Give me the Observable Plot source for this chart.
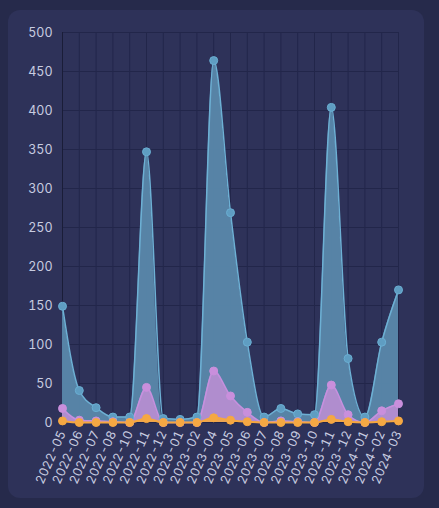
<!DOCTYPE html>
<html>
<head>
<meta charset="utf-8">
<script src="https://cdn.jsdelivr.net/npm/d3@7"></script>
<script src="https://cdn.jsdelivr.net/npm/@observablehq/plot@0.6"></script>
<style>
  html, body { margin: 0; padding: 0; background: #262a4b; width: 439px; height: 508px; overflow: hidden; }
  #card { position: absolute; left: 8px; top: 10px; width: 416px; height: 488px; background: #2e3259; border-radius: 12px; overflow: hidden; }
  #card svg { display: block; }
</style>
</head>
<body>
<div id="card"></div>
<script>
const months = ["2022-05","2022-06","2022-07","2022-08","2022-10","2022-11","2022-12","2023-01","2023-02","2023-04","2023-05","2023-06","2023-07","2023-08","2023-09","2023-10","2023-11","2023-12","2024-01","2024-02","2024-03"];
const blueValues   = [149, 41, 19, 7, 7, 347, 5, 4, 7, 464, 269, 103, 7, 18, 11, 10, 404, 82, 7, 103, 170];
const pinkValues   = [18, 3, 2, 1, 0, 45, 0, 0, 0, 66, 34, 13, 0, 2, 1, 0, 48, 10, 0, 15, 24];
const orangeValues = [2, 0, 0, 0, 0, 5, 0, 0, 0, 6, 3, 1, 0, 0, 0, 0, 4, 1, 0, 1, 2];
const yTicks = [0, 50, 100, 150, 200, 250, 300, 350, 400, 450, 500];

const idx = months.map((m, i) => i);
const rows = (vals) => months.map((m, i) => ({i, month: m, value: vals[i]}));
const blue = rows(blueValues), pink = rows(pinkValues), orange = rows(orangeValues);
const curve = "monotone-x";

const chart = Plot.plot({
  width: 416,
  height: 488,
  marginLeft: 54,
  marginRight: 26,
  marginTop: 22,
  marginBottom: 76,
  style: {background: "transparent", fontFamily: "Inter, 'Noto Sans', sans-serif", fontSize: "12.5px", color: "#c8cce0"},
  x: {type: "linear", domain: [0, months.length - 1], ticks: idx, tickFormat: (i) => months[i], label: null, tickRotate: -66, tickSize: 0, tickPadding: 9},
  y: {domain: [0, 500], ticks: yTicks, label: null, tickSize: 0, tickPadding: 10},
  marks: [
    Plot.gridX(idx, {stroke: "#22264a", strokeOpacity: 1}),
    Plot.gridY(yTicks, {stroke: "#22264a", strokeOpacity: 1}),
    Plot.ruleX([0], {stroke: "#1a1d38", strokeWidth: 1}),
    Plot.areaY(blue, {x: "i", y: "value", fill: "#5a88ab", fillOpacity: 0.95, curve}),
    Plot.areaY(pink, {x: "i", y: "value", fill: "#b58dd0", fillOpacity: 0.95, curve}),
    Plot.areaY(orange, {x: "i", y: "value", fill: "#f2a646", fillOpacity: 0.9, curve}),
    Plot.lineY(blue, {x: "i", y: "value", stroke: "#6db0d4", strokeWidth: 1.5, curve}),
    Plot.lineY(pink, {x: "i", y: "value", stroke: "#c690de", strokeWidth: 1.5, curve}),
    Plot.lineY(orange, {x: "i", y: "value", stroke: "#f6a73e", strokeWidth: 2, curve}),
    Plot.dot(blue, {x: "i", y: "value", r: 4, fill: "#5f9dc2", stroke: "#6aaed2", strokeWidth: 1}),
    Plot.dot(pink, {x: "i", y: "value", r: 4, fill: "#c98fdc", stroke: "#c98fdc", strokeWidth: 1}),
    Plot.dot(orange, {x: "i", y: "value", r: 4, fill: "#f5a843", stroke: "#f5a843", strokeWidth: 1})
  ]
});
document.getElementById("card").appendChild(chart);
</script>
</body>
</html>
